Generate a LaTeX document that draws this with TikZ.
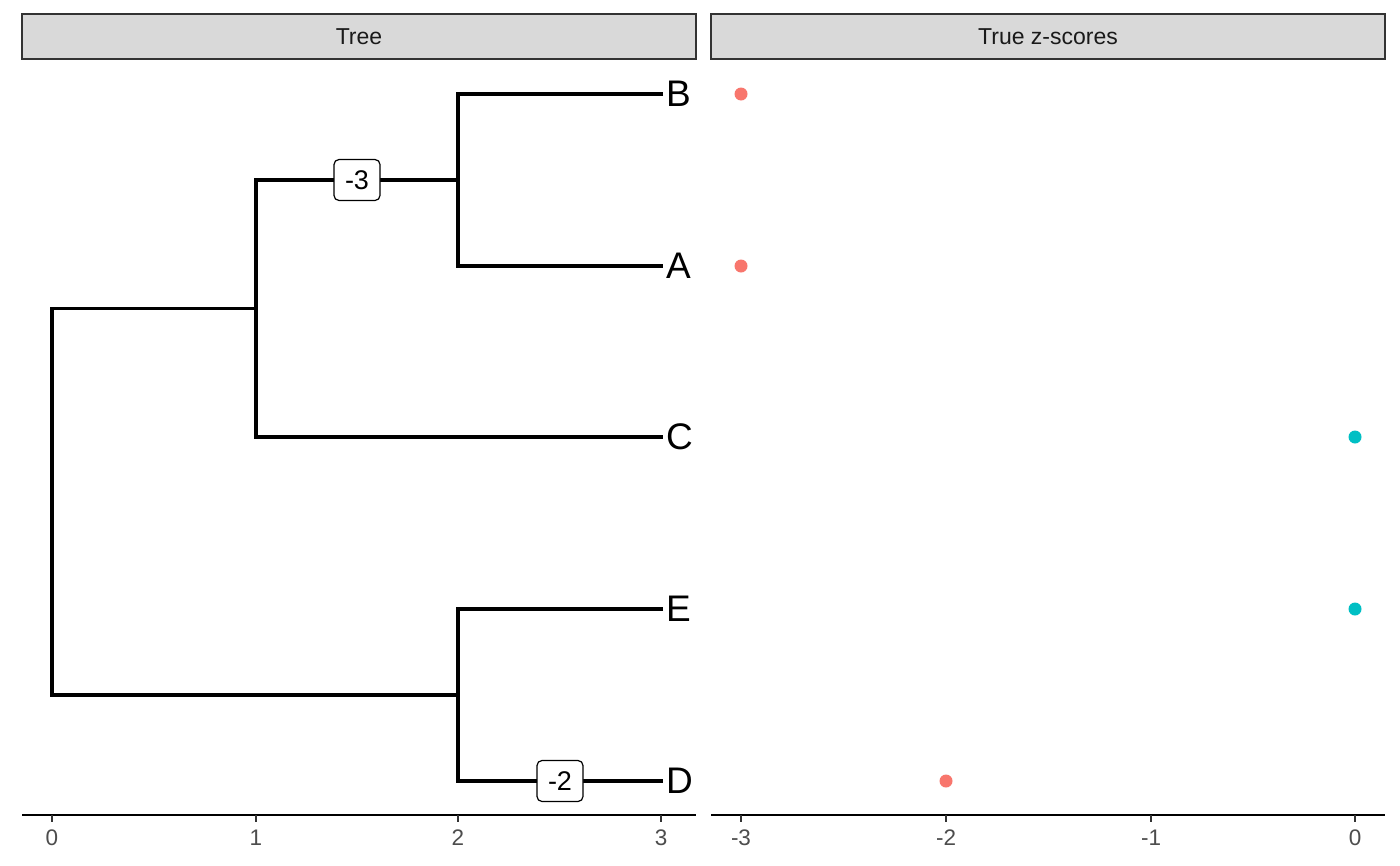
\documentclass[tikz,border=0pt]{standalone}
\usepackage{fontspec}
\setmainfont{Liberation Sans}
\definecolor{stripfill}{HTML}{D9D9D9}
\definecolor{stripline}{HTML}{333333}
\definecolor{striptext}{HTML}{1A1A1A}
\definecolor{ticktext}{HTML}{4D4D4D}
\definecolor{ptred}{HTML}{F8766D}
\definecolor{ptcyan}{HTML}{00BFC4}
\begin{document}
\begin{tikzpicture}[x=1pt,y=-1pt,
  strip/.style={draw=stripline,fill=stripfill,line width=1.3pt},
  striplabel/.style={text=striptext,font=\fontsize{23}{27}\selectfont,inner sep=0pt},
  branch/.style={draw=black,line width=3.1pt,line cap=butt,line join=miter},
  tiplabel/.style={anchor=west,inner sep=0pt,font=\fontsize{37}{40}\selectfont,text=black},
  edgelabel/.style={draw=black,fill=white,line width=1.2pt,rounded corners=5pt,
     minimum width=46pt,minimum height=41pt,inner sep=0pt,font=\fontsize{27}{29}\selectfont},
  axisline/.style={draw=black,line width=2.9pt},
  tickmark/.style={draw=stripline,line width=2.5pt},
  ticklabel/.style={text=ticktext,font=\fontsize{22.5}{24}\selectfont,inner sep=0pt},
  pt/.style={circle,inner sep=0pt,minimum size=13pt},
  ptneg/.style={pt,fill=ptred},
  ptzero/.style={pt,fill=ptcyan}]
\useasboundingbox (0,0) rectangle (1400,865);
\fill[white] (0,0) rectangle (1400,865);
% strips
\draw[strip] (22,14) rectangle (696,59);
\draw[strip] (711,14) rectangle (1385,59);
\node[striplabel] (stripTree) at (359,37) {Tree};
\node[striplabel] (stripZ) at (1048,37) {True z-scores};
% tree coordinates
\coordinate (root) at (52,501.5);
\coordinate (nABC) at (256,308.5);
\coordinate (nAB) at (458,180);
\coordinate (nDE) at (458,695);
\coordinate (tB) at (663,94);
\coordinate (tA) at (663,266);
\coordinate (tC) at (663,437);
\coordinate (tE) at (663,609);
\coordinate (tD) at (663,781);
% branches
\draw[branch] (nABC) -| (root) |- (nDE);
\draw[branch] (nAB) -| (nABC) |- (tC);
\draw[branch] (tB) -| (nAB) |- (tA);
\draw[branch] (tE) -| (nDE) |- (tD);
% tip labels
\node[tiplabel] (labB) at (666,94) {B};
\node[tiplabel] (labA) at (666,266) {A};
\node[tiplabel] (labC) at (666,437) {C};
\node[tiplabel] (labE) at (666,609) {E};
\node[tiplabel] (labD) at (666,781) {D};
% edge labels
\node[edgelabel] (e3) at (357,180) {-3};
\node[edgelabel] (e2) at (560,781) {-2};
% points
\node[ptneg] (pB) at (741,94) {};
\node[ptneg] (pA) at (741,266) {};
\node[ptzero] (pC) at (1355,437) {};
\node[ptzero] (pE) at (1355,609) {};
\node[ptneg] (pD) at (946,781) {};
% axes
\draw[axisline] (22,815) -- (696,815);
\draw[axisline] (711,815) -- (1385,815);
\foreach \x/\l [count=\i] in {52/0,256/1,458/2,661/3}{
  \draw[tickmark] (\x,815) -- (\x,822);
  \node[ticklabel] (tl\i) at (\x,838) {\l};
}
\foreach \x/\l [count=\i] in {741/-3,946/-2,1151/-1,1355/0}{
  \draw[tickmark] (\x,815) -- (\x,822);
  \node[ticklabel] (tr\i) at (\x,838) {\l};
}
\end{tikzpicture}
\end{document}
